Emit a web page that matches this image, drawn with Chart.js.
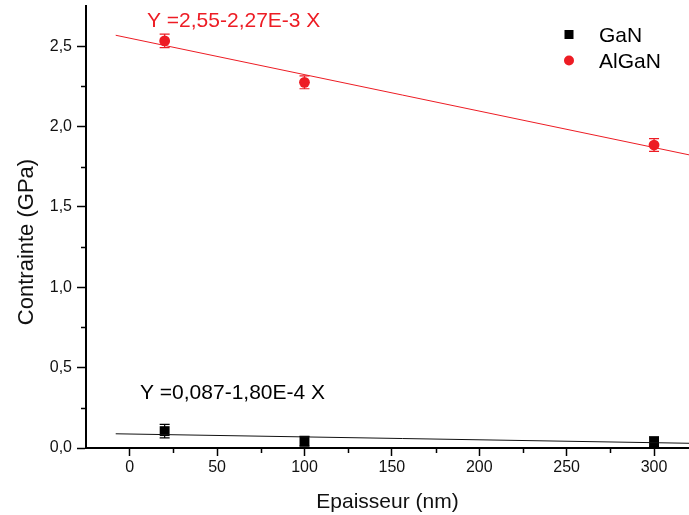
<!DOCTYPE html>
<html><head><meta charset="utf-8">
<script src="https://cdn.jsdelivr.net/npm/chart.js@4.4.0/dist/chart.umd.min.js"></script>
<style>html,body{margin:0;padding:0;background:#fff;overflow:hidden;}#wrap{width:689px;height:515px;}</style>
</head><body><div id="wrap"><canvas id="c"></canvas></div>
<script>
const thickness = [20, 100, 300];
const ganStress = [0.105, 0.042, 0.040];
const ganErr = [0.042, 0.03, 0.03];
const alganStress = [2.533, 2.275, 1.885];
const alganErr = [0.042, 0.04, 0.04];
const fitX = [-8, 320];
const ganFit = [0.0884, 0.0294];
const alganFit = [2.568, 1.824];
const xTicks = [0, 50, 100, 150, 200, 250, 300];
const xMinor = [25, 75, 125, 175, 225, 275];
const yTicks = [0, 0.5, 1.0, 1.5, 2.0, 2.5];
const yMinor = [0.25, 0.75, 1.25, 1.75, 2.25];
const seriesNames = ['GaN', 'AlGaN'];
const fitLabels = ['Y =0,087-1,80E-4 X', 'Y =2,55-2,27E-3 X'];
const axisTitles = ['Epaisseur (nm)', 'Contrainte (GPa)'];

const RED = '#ed1c24';
const BLK = '#000000';
const FONT = "'Liberation Sans', Arial, sans-serif";

const errPlugin = {
  id: 'err',
  beforeDatasetsDraw(chart) {
    const ctx = chart.ctx, xs = chart.scales.x, ys = chart.scales.y;
    const sets = [[ganStress, ganErr, BLK], [alganStress, alganErr, RED]];
    ctx.save();
    ctx.lineWidth = 1.2;
    sets.forEach(([vals, errs, col]) => {
      ctx.strokeStyle = col;
      thickness.forEach((t, i) => {
        const px = xs.getPixelForValue(t);
        const y1 = ys.getPixelForValue(vals[i] + errs[i]);
        const y2 = ys.getPixelForValue(vals[i] - errs[i]);
        ctx.beginPath();
        ctx.moveTo(px, y1); ctx.lineTo(px, y2);
        ctx.moveTo(px - 5, y1); ctx.lineTo(px + 5, y1);
        ctx.moveTo(px - 5, y2); ctx.lineTo(px + 5, y2);
        ctx.stroke();
      });
    });
    ctx.restore();
  },
  afterDraw(chart) {
    const ctx = chart.ctx, xs = chart.scales.x, ys = chart.scales.y;
    ctx.save();
    // minor ticks
    ctx.strokeStyle = '#000'; ctx.lineWidth = 1.5;
    ctx.beginPath();
    xMinor.forEach(v => { const p = Math.round(xs.getPixelForValue(v)) + 0.5; ctx.moveTo(p, ys.bottom); ctx.lineTo(p, ys.bottom + 5); });
    yMinor.forEach(v => { const p = Math.round(ys.getPixelForValue(v)) + 0.5; ctx.moveTo(xs.left, p); ctx.lineTo(xs.left - 5, p); });
    ctx.stroke();
    // y axis title
    ctx.save();
    ctx.translate(27, (ys.top + ys.bottom) / 2 + 15);
    ctx.rotate(-Math.PI / 2);
    ctx.font = '22px ' + FONT;
    ctx.textAlign = 'center';
    ctx.textBaseline = 'middle';
    ctx.fillStyle = '#111';
    ctx.fillText(axisTitles[1], 0, 0);
    ctx.restore();
    // annotations
    ctx.textBaseline = 'alphabetic';
    ctx.font = '21px ' + FONT;
    ctx.fillStyle = RED;
    ctx.fillText(fitLabels[1], 147, 27);
    ctx.fillStyle = BLK;
    ctx.fillText(fitLabels[0], 140, 399);
    // legend
    ctx.fillStyle = BLK;
    ctx.fillRect(564.5, 30, 9, 9);
    ctx.fillStyle = RED;
    ctx.beginPath(); ctx.arc(569, 60.5, 5, 0, Math.PI * 2); ctx.fill();
    ctx.fillStyle = BLK;
    ctx.fillText(seriesNames[0], 599, 42);
    ctx.fillText(seriesNames[1], 599, 68);
    ctx.restore();
  }
};

const commaFmt = v => v.toFixed(1).replace('.', ',');

new Chart(document.getElementById('c'), {
  type: 'scatter',
  data: {
    datasets: [
      { label: seriesNames[0] + ' fit', type: 'line', data: fitX.map((x, i) => ({x, y: ganFit[i]})),
        borderColor: '#111', borderWidth: 1, pointRadius: 0, fill: false },
      { label: seriesNames[1] + ' fit', type: 'line', data: fitX.map((x, i) => ({x, y: alganFit[i]})),
        borderColor: RED, borderWidth: 1, pointRadius: 0, fill: false },
      { label: seriesNames[0], data: thickness.map((x, i) => ({x, y: ganStress[i]})),
        pointStyle: 'rect', pointRadius: 7, backgroundColor: BLK, borderColor: BLK, borderWidth: 0 },
      { label: seriesNames[1], data: thickness.map((x, i) => ({x, y: alganStress[i]})),
        pointStyle: 'circle', pointRadius: 5.4, backgroundColor: RED, borderColor: RED, borderWidth: 0 }
    ]
  },
  options: {
    responsive: true, maintainAspectRatio: false, animation: false,
    layout: { autoPadding: false, padding: { top: 6, right: 0, left: 0, bottom: 0 } },
    plugins: { legend: { display: false }, tooltip: { enabled: false } },
    scales: {
      x: {
        type: 'linear', min: -25, max: 320,
        afterBuildTicks: s => { s.ticks = xTicks.map(v => ({ value: v })); },
        afterFit: s => { s.height = 67; s.paddingLeft = 0; s.paddingRight = 0; },
        grid: { drawOnChartArea: false, drawTicks: true, tickLength: 8, color: '#000', tickWidth: 1.5 },
        border: { color: '#000', width: 2 },
        ticks: { color: '#111', font: { family: FONT, size: 16 }, padding: 2, maxRotation: 0, callback: v => String(v) },
        title: { display: true, text: axisTitles[0], color: '#111', font: { family: FONT, size: 21 }, padding: { top: 0, bottom: 0 } }
      },
      y: {
        type: 'linear', min: 0, max: 2.75,
        afterBuildTicks: s => { s.ticks = yTicks.map(v => ({ value: v })); },
        afterFit: s => { s.width = 86; s.paddingTop = 0; s.paddingBottom = 0; },
        grid: { drawOnChartArea: false, drawTicks: true, tickLength: 9, color: '#000', tickWidth: 1.5 },
        border: { color: '#000', width: 2 },
        ticks: { color: '#111', font: { family: FONT, size: 16 }, padding: 5, callback: v => commaFmt(v) },
        title: { display: false }
      }
    }
  },
  plugins: [errPlugin]
});
</script></body></html>
